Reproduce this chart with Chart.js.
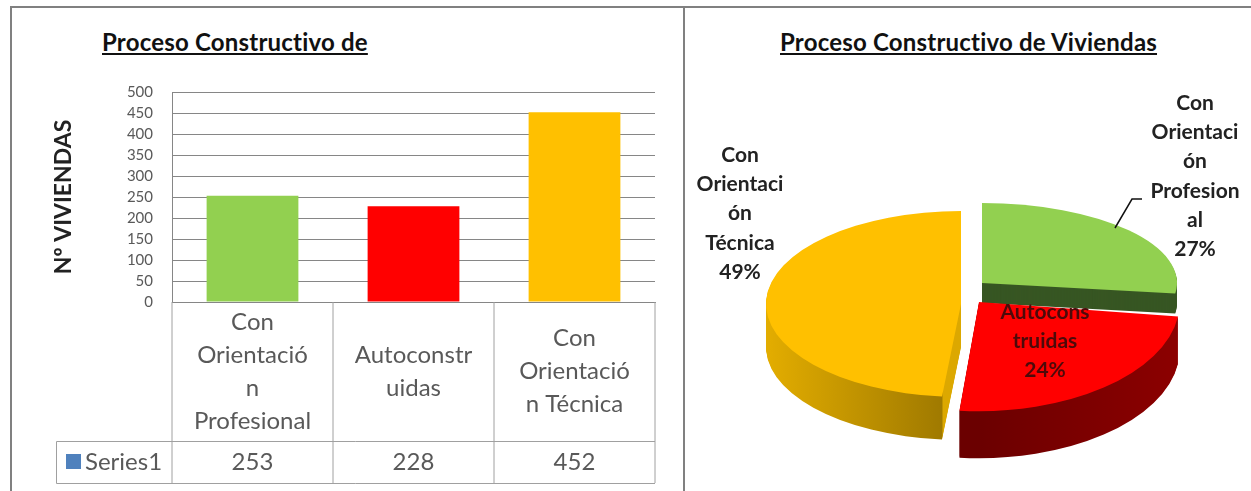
<!DOCTYPE html>
<html>
<head>
<meta charset="utf-8">
<title>Proceso Constructivo de Viviendas</title>
<script src="https://cdn.jsdelivr.net/npm/chart.js@4"></script>
<style>
    html, body { margin: 0; padding: 0; background: #fff; }
    body { width: 1251px; height: 491px; position: relative; overflow: hidden; font-family: Lato, sans-serif; }
    canvas { position: absolute; top: 0; }
    #marco { position: absolute; left: 10px; top: 6px; width: 1245px; height: 490px; border: 2px solid #808080; box-sizing: border-box; }
    #divisor { position: absolute; left: 683px; top: 6px; width: 2px; height: 485px; background: #808080; }
    .titulo { position: absolute; top: 27px; font-weight: bold; font-size: 24px; letter-spacing: 0.2px; line-height: 30px; color: #111; text-decoration: underline; white-space: nowrap; }
</style>
</head>
<body>
<div id="marco"></div>
<div id="divisor"></div>
<div class="titulo" id="titulo-barras" style="left:102px"></div>
<div class="titulo" id="titulo-pie" style="left:780px"></div>
<canvas id="barras" width="683" height="491" style="left:0"></canvas>
<canvas id="pie" width="566" height="491" style="left:685px"></canvas>

<script>
var tituloBarras = "Proceso Constructivo de";
var tituloPie = "Proceso Constructivo de Viviendas";
var tituloEjeY = "Nº VIVIENDAS";
var nombreSerie = "Series1";

var categorias = [
    ["Con", "Orientació", "n", "Profesional"],
    ["Autoconstr", "uidas"],
    ["Con", "Orientació", "n Técnica"]
];
var viviendas = [253, 228, 452];
var ticksY = [0, 50, 100, 150, 200, 250, 300, 350, 400, 450, 500];

var etiquetasPie = [
    ["Con", "Orientaci", "ón", "Profesion", "al"],
    ["Autocons", "truidas"],
    ["Con", "Orientaci", "ón", "Técnica"]
];
var porcentajes = ["27%", "24%", "49%"];

var colores = ["#92d050", "#ff0000", "#ffc000"];

document.getElementById("titulo-barras").textContent = tituloBarras;
document.getElementById("titulo-pie").textContent = tituloPie;

// tabla de datos debajo del grafico de barras
var tablaDatos = {
    id: "tablaDatos",
    afterDraw: function (chart) {
        var ctx = chart.ctx;
        var x = chart.scales.x;
        var abajo = chart.chartArea.bottom;
        var ancho = (x.right - x.left) / categorias.length;
        ctx.save();
        ctx.strokeStyle = "#a0a0a0";
        ctx.lineWidth = 1;
        ctx.beginPath();
        for (var i = 0; i <= categorias.length; i++) {
            ctx.moveTo(x.left + ancho * i, abajo);
            ctx.lineTo(x.left + ancho * i, 483);
        }
        ctx.moveTo(56.5, 441.5);
        ctx.lineTo(x.right, 441.5);
        ctx.moveTo(56.5, 483.5);
        ctx.lineTo(x.right, 483.5);
        ctx.moveTo(56.5, 441.5);
        ctx.lineTo(56.5, 483.5);
        ctx.stroke();

        ctx.fillStyle = "#4f81bd";
        ctx.fillRect(66, 454, 15, 15);
        ctx.fillStyle = "#595959";
        ctx.font = "24px Lato";
        ctx.textBaseline = "middle";
        ctx.textAlign = "left";
        ctx.fillText(nombreSerie, 85, 462);
        ctx.textAlign = "center";
        viviendas.forEach(function (v, i) {
            ctx.fillText(String(v), x.getPixelForTick(i), 462);
        });
        ctx.restore();
    }
};

new Chart(document.getElementById("barras").getContext("2d"), {
    type: "bar",
    data: {
        labels: categorias,
        datasets: [{
            label: nombreSerie,
            data: viviendas,
            backgroundColor: colores,
            categoryPercentage: 1,
            barPercentage: 0.57
        }]
    },
    options: {
        responsive: false,
        animation: false,
        layout: { padding: { left: 50, right: 28, top: 92, bottom: 8 } },
        plugins: { legend: { display: false }, title: { display: false }, tooltip: { enabled: false } },
        scales: {
            x: {
                afterFit: function (scale) { scale.height = 181; },
                grid: { display: false },
                border: { color: "#868686" },
                ticks: {
                    autoSkip: false,
                    maxRotation: 0,
                    crossAlign: "center",
                    padding: 12,
                    color: "#595959",
                    font: { family: "Lato", size: 24, lineHeight: "33px" }
                }
            },
            y: {
                min: 0,
                max: 500,
                afterFit: function (scale) { scale.width = 122; },
                afterBuildTicks: function (scale) {
                    scale.ticks = ticksY.map(function (v) { return { value: v }; });
                },
                grid: { color: "#868686", drawTicks: false },
                border: { display: true, color: "#868686" },
                ticks: { padding: 19, color: "#595959", font: { family: "Lato", size: 15 } },
                title: {
                    display: true,
                    text: tituloEjeY,
                    color: "#222",
                    padding: 0,
                    font: { family: "Lato", size: 23, weight: "bold" }
                }
            }
        }
    },
    plugins: [tablaDatos]
});

// perspectiva de cada porcion: verde, roja, amarilla
var desplazar = [{ x: 14, y: -17 }, { x: 11, y: 2 }, { x: -7, y: 4 }];
var ensanchar = [1, 1.03, 1];
var aplastar = [0.41, 0.56, 0.477];
var profundidad = [20, 47, 43];
var ordenPorciones = [0, 2, 1];

function colorPared(ctx, arc, i) {
    var g = ctx.createLinearGradient(arc.x - 195, 0, arc.x + 195, 0);
    if (i == 0) {
        return "#375623";
    } else if (i == 1) {
        g.addColorStop(0.5, "#6b0000");
        g.addColorStop(1, "#8c0000");
    } else {
        g.addColorStop(0, "#e3ad00");
        g.addColorStop(0.45, "#a07a00");
        g.addColorStop(0.455, "#dca800");
    }
    return g;
}

var pie3d = {
    id: "pie3d",
    beforeDatasetDraw: function (chart, args) {
        var ctx = chart.ctx;
        var arcos = args.meta.data;
        ordenPorciones.forEach(function (i) {
            var arc = arcos[i];
            var pared = Object.create(arc);
            pared.options = Object.assign({}, arc.options, { backgroundColor: colorPared(ctx, arc, i) });
            for (var d = profundidad[i]; d >= 0; d--) {
                ctx.save();
                ctx.translate(arc.x + desplazar[i].x, arc.y + desplazar[i].y + d);
                ctx.scale(ensanchar[i], aplastar[i]);
                ctx.translate(-arc.x, -arc.y);
                (d == 0 ? arc : pared).draw(ctx);
                ctx.restore();
            }
        });
        return false;
    },
    afterDraw: function (chart) {
        var ctx = chart.ctx;
        ctx.save();
        // linea guia de la etiqueta verde
        ctx.strokeStyle = "#111";
        ctx.lineWidth = 1.5;
        ctx.beginPath();
        ctx.moveTo(430, 228);
        ctx.lineTo(447, 199);
        ctx.lineTo(457, 199);
        ctx.stroke();

        ctx.font = "bold 21px Lato";
        ctx.textAlign = "center";
        ctx.textBaseline = "middle";
        var cajas = [{ x: 510, y: 103, color: "#222" }, { x: 360, y: 312, color: "#4d0a0a" }, { x: 55, y: 155, color: "#222" }];
        cajas.forEach(function (caja, i) {
            ctx.fillStyle = caja.color;
            etiquetasPie[i].concat(porcentajes[i]).forEach(function (linea, n) {
                ctx.fillText(linea, caja.x, caja.y + n * 29.3);
            });
        });
        ctx.restore();
    }
};

new Chart(document.getElementById("pie").getContext("2d"), {
    type: "pie",
    data: {
        labels: etiquetasPie.map(function (l) { return l.join(""); }),
        datasets: [{
            data: viviendas,
            backgroundColor: colores,
            borderWidth: 0,
            radius: 195
        }]
    },
    options: {
        responsive: false,
        animation: false,
        layout: { padding: { top: 109 } },
        plugins: { legend: { display: false }, title: { display: false }, tooltip: { enabled: false } }
    },
    plugins: [pie3d]
});
</script>
</body>
</html>
